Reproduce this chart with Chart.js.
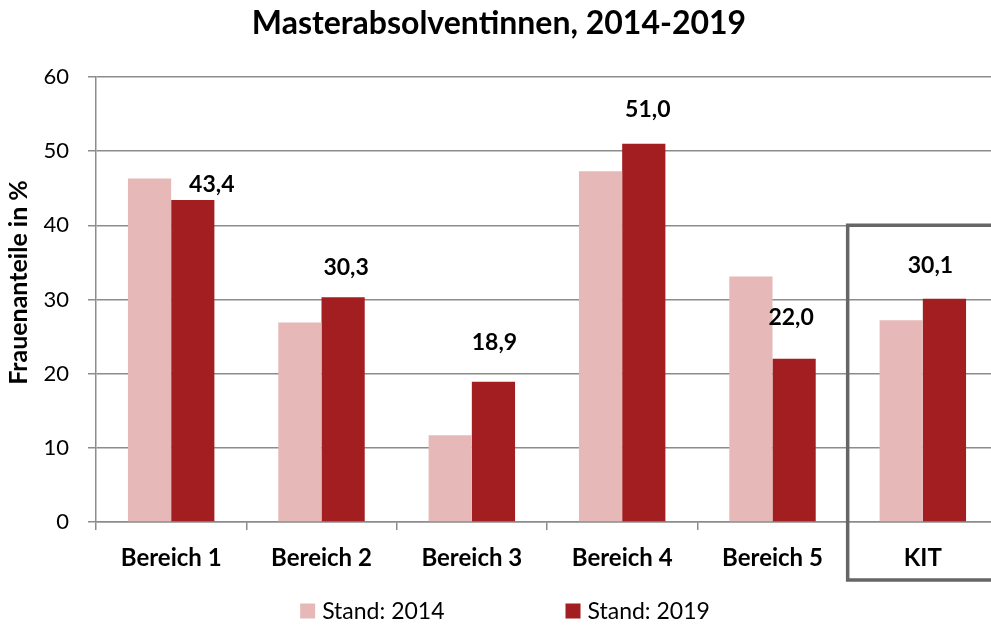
<!DOCTYPE html>
<html>
<head>
<meta charset="utf-8">
<script src="https://cdn.jsdelivr.net/npm/chart.js@4"></script>
<style>
  html, body { margin: 0; padding: 0; background: #fff; overflow: hidden; }
  #wrap { width: 1000px; height: 628px; }
</style>
</head>
<body>
<div id="wrap"><canvas id="c" width="1000" height="628"></canvas></div>
<script>
const categories = ['Bereich 1', 'Bereich 2', 'Bereich 3', 'Bereich 4', 'Bereich 5', 'KIT'];
const values2014 = [46.3, 26.9, 11.7, 47.3, 33.1, 27.2];
const values2019 = [43.4, 30.3, 18.9, 51.0, 22.0, 30.1];
const seriesLabels = ['Stand: 2014', 'Stand: 2019'];
const yTicks = [0, 10, 20, 30, 40, 50, 60];
const chartTitle = 'Masterabsolventinnen, 2014-2019';
const yTitle = 'Frauenanteile in %';

const FONT = 'Lato, "Open Sans", sans-serif';
const GRID = '#8c8c8c';
const COL14 = '#e6b9b8';
const COL19 = '#a21e21';

// label nudges (style), px relative to bar top-center
const labelNudge = [[19, -16], [3, -30], [1, -39], [4, -34], [-3, -41], [-14, -33]];

const extras = {
  id: 'extras',
  afterDatasetsDraw(chart) {
    const ctx = chart.ctx;
    const meta = chart.getDatasetMeta(1);
    ctx.save();
    ctx.font = 'bold 23px ' + FONT;
    ctx.fillStyle = '#000';
    ctx.textAlign = 'center';
    ctx.textBaseline = 'middle';
    meta.data.forEach((bar, i) => {
      const v = chart.data.datasets[1].data[i];
      const t = v.toFixed(1).replace('.', ',');
      const n = labelNudge[i];
      ctx.fillText(t, bar.x + n[0], bar.y + n[1]);
    });
    ctx.restore();
  },
  afterDraw(chart) {
    const ctx = chart.ctx;
    const xs = chart.scales.x, ys = chart.scales.y;
    const ca = chart.chartArea;
    // KIT box
    const left = (xs.getPixelForValue(4) + xs.getPixelForValue(5)) / 2;
    const top = ys.getPixelForValue(40);
    const bottom = ca.bottom + 58;
    ctx.save();
    ctx.strokeStyle = '#666';
    ctx.lineWidth = 3.5;
    ctx.beginPath();
    ctx.moveTo(chart.width + 10, top);
    ctx.lineTo(left, top);
    ctx.lineTo(left, bottom);
    ctx.lineTo(chart.width + 10, bottom);
    ctx.stroke();
    // y axis title
    ctx.fillStyle = '#000';
    ctx.font = 'bold 25px ' + FONT;
    ctx.textAlign = 'center';
    ctx.textBaseline = 'middle';
    ctx.translate(19, (ca.top + ca.bottom) / 2 - 17);
    ctx.rotate(-Math.PI / 2);
    ctx.fillText(yTitle, 0, 0);
    ctx.restore();
    // legend
    ctx.save();
    ctx.font = '23px ' + FONT;
    ctx.textBaseline = 'middle';
    ctx.textAlign = 'left';
    const ly = 611;
    const items = chart.data.datasets.map(d => ({ text: d.label, color: d.backgroundColor }));
    const box = 15, gapBoxText = 7, gapItems = 121;
    let total = 0;
    items.forEach((it, i) => { total += box + gapBoxText + ctx.measureText(it.text).width + (i ? gapItems : 0); });
    let x = 505 - total / 2;
    items.forEach((it, i) => {
      if (i) x += gapItems;
      ctx.fillStyle = it.color;
      ctx.fillRect(x, ly - box / 2, box, box);
      x += box + gapBoxText;
      ctx.fillStyle = '#000';
      ctx.fillText(it.text, x, ly + 1);
      x += ctx.measureText(it.text).width;
    });
    ctx.restore();
  }
};

new Chart(document.getElementById('c'), {
  type: 'bar',
  data: {
    labels: categories,
    datasets: [
      { label: seriesLabels[0], data: values2014, backgroundColor: COL14, borderWidth: 0 },
      { label: seriesLabels[1], data: values2019, backgroundColor: COL19, borderWidth: 0 }
    ]
  },
  options: {
    responsive: false,
    animation: false,
    layout: { padding: { left: 0, right: 2, top: 0, bottom: 0 } },
    datasets: { bar: { categoryPercentage: 0.575, barPercentage: 1.0 } },
    plugins: {
      legend: { display: false },
      tooltip: { enabled: false },
      title: {
        display: true,
        text: chartTitle,
        color: '#000',
        font: { family: FONT, size: 32, weight: 'bold', lineHeight: 1.2 },
        padding: { top: 4, bottom: 34.6 }
      }
    },
    scales: {
      x: {
        afterFit(s) { s.height = 106; },
        grid: { display: true, drawOnChartArea: false, drawTicks: true, tickLength: 8, color: GRID, lineWidth: 1.5, offset: true },
        border: { display: true, color: GRID, width: 1.5 },
        ticks: { color: '#000', padding: 14, font: { family: FONT, size: 24, weight: 'bold' } }
      },
      y: {
        min: 0, max: 60,
        afterFit(s) { s.width = 96; },
        afterBuildTicks(s) { s.ticks = yTicks.map(v => ({ value: v })); },
        grid: { color: GRID, lineWidth: 1.5, tickLength: 8, drawTicks: true },
        border: { display: true, color: GRID, width: 1.5 },
        ticks: { color: '#000', padding: 19, font: { family: FONT, size: 22 } }
      }
    }
  },
  plugins: [extras]
});
</script>
</body>
</html>
